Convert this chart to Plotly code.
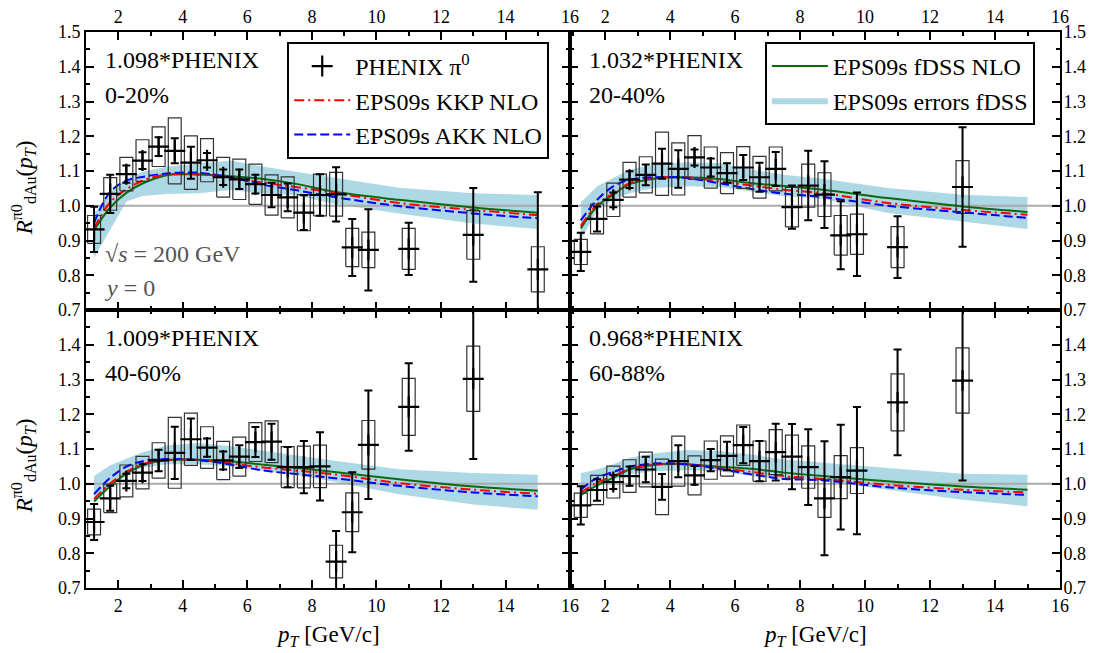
import plotly.graph_objects as go

# ---------------- data ----------------
PT = [1.25, 1.75, 2.25, 2.75, 3.25, 3.75, 4.25, 4.75, 5.25, 5.75, 6.25, 6.75,
      7.25, 7.75, 8.25, 8.75, 9.25, 9.75, 11.0, 13.0, 15.0]

NORM_LABELS = ["1.098*PHENIX", "1.032*PHENIX", "1.009*PHENIX", "0.968*PHENIX"]
CENT_LABELS = ["0-20%", "20-40%", "40-60%", "60-88%"]

R_0_20 = [0.932, 1.034, 1.091, 1.130, 1.170, 1.158, 1.124, 1.131, 1.082, 1.076, 1.062,
          1.031, 1.024, 0.980, 1.031, 1.033, 0.880, 0.873, 0.876, 0.916, 0.817]
STAT_0_20 = [0.065, 0.055, 0.025, 0.024, 0.027, 0.036, 0.046, 0.021, 0.022, 0.028, 0.027,
             0.035, 0.040, 0.050, 0.060, 0.078, 0.082, 0.117, 0.075, 0.135, 0.222]
SYS_0_20 = [0.040, 0.047, 0.048, 0.060, 0.057, 0.095, 0.077, 0.062, 0.057, 0.058, 0.058,
            0.058, 0.059, 0.052, 0.060, 0.063, 0.055, 0.051, 0.059, 0.070, 0.065]

R_20_40 = [0.867, 0.962, 1.017, 1.075, 1.089, 1.121, 1.106, 1.139, 1.110, 1.094,
           1.110, 1.082, 1.106, 0.996, 1.058, 1.032, 0.915, 0.918, 0.881, 1.054]
STAT_20_40 = [0.055, 0.036, 0.021, 0.024, 0.030, 0.043, 0.054, 0.023, 0.026, 0.028,
              0.036, 0.042, 0.049, 0.062, 0.100, 0.096, 0.098, 0.120, 0.089, 0.172]
SYS_20_40 = [0.036, 0.043, 0.048, 0.050, 0.052, 0.091, 0.075, 0.063, 0.059, 0.059,
             0.060, 0.060, 0.063, 0.057, 0.062, 0.063, 0.057, 0.058, 0.059, 0.076]

R_40_60 = [0.890, 0.958, 1.008, 1.032, 1.067, 1.089, 1.128, 1.104, 1.067, 1.078,
           1.120, 1.121, 1.048, 1.048, 1.050, 0.776, 0.918, 1.112, 1.221, 1.302]
STAT_40_60 = [0.052, 0.036, 0.021, 0.024, 0.031, 0.075, 0.060, 0.026, 0.026, 0.033,
              0.043, 0.052, 0.058, 0.075, 0.098, 0.088, 0.115, 0.156, 0.126, 0.231]
SYS_40_60 = [0.037, 0.041, 0.046, 0.047, 0.051, 0.102, 0.075, 0.060, 0.055, 0.056,
             0.056, 0.060, 0.059, 0.060, 0.061, 0.047, 0.056, 0.070, 0.082, 0.094]

R_60_88 = [0.938, 0.982, 1.005, 1.022, 1.041, 0.991, 1.065, 1.024, 1.068, 1.080,
           1.111, 1.065, 1.091, 1.078, 1.048, 0.958, 1.019, 1.038, 1.234, 1.297]
STAT_60_88 = [0.055, 0.031, 0.020, 0.028, 0.037, 0.037, 0.046, 0.027, 0.032, 0.041,
              0.052, 0.058, 0.082, 0.094, 0.109, 0.164, 0.151, 0.183, 0.152, 0.288]
SYS_60_88 = [0.035, 0.042, 0.046, 0.047, 0.050, 0.080, 0.072, 0.056, 0.055, 0.058,
             0.058, 0.058, 0.065, 0.062, 0.061, 0.055, 0.062, 0.066, 0.082, 0.094]

# theory curves (EPS09s), common pT grid
PT_TH = [1.25, 1.75, 2.25, 2.75, 3.5, 4.5, 5.5, 6.5, 7.5, 8.7, 10.7, 13.0, 15.0]

FDSS_0_20 = [0.930, 0.995, 1.037, 1.064, 1.088, 1.090, 1.085, 1.077, 1.063, 1.040, 1.017, 0.995, 0.980]
KKP_0_20 = [0.935, 1.010, 1.047, 1.072, 1.090, 1.090, 1.082, 1.066, 1.054, 1.037, 1.008, 0.988, 0.973]
AKK_0_20 = [0.951, 1.040, 1.072, 1.083, 1.093, 1.095, 1.081, 1.060, 1.045, 1.025, 0.999, 0.978, 0.964]
ERR_HI_0_20 = [0.975, 1.040, 1.077, 1.098, 1.112, 1.120, 1.130, 1.112, 1.098, 1.080, 1.052, 1.036, 1.031]
ERR_LO_0_20 = [0.850, 0.930, 1.012, 1.028, 1.034, 1.036, 1.045, 1.035, 1.030, 1.005, 0.978, 0.949, 0.933]

FDSS_20_40 = [0.935, 0.998, 1.032, 1.062, 1.078, 1.082, 1.077, 1.065, 1.057, 1.046, 1.022, 0.998, 0.982]
KKP_20_40 = [0.942, 1.003, 1.036, 1.065, 1.080, 1.082, 1.070, 1.058, 1.046, 1.036, 1.008, 0.988, 0.974]
AKK_20_40 = [0.958, 1.017, 1.056, 1.075, 1.082, 1.080, 1.065, 1.048, 1.035, 1.025, 1.000, 0.981, 0.965]
ERR_HI_20_40 = [1.010, 1.056, 1.080, 1.104, 1.118, 1.125, 1.123, 1.104, 1.089, 1.078, 1.051, 1.032, 1.025]
ERR_LO_20_40 = [0.900, 0.988, 1.017, 1.036, 1.051, 1.056, 1.054, 1.041, 1.027, 1.020, 0.979, 0.955, 0.933]

FDSS_40_60 = [0.949, 0.993, 1.029, 1.053, 1.068, 1.069, 1.064, 1.055, 1.046, 1.034, 1.013, 0.992, 0.980]
KKP_40_60 = [0.956, 1.001, 1.034, 1.056, 1.068, 1.068, 1.058, 1.047, 1.038, 1.027, 1.002, 0.983, 0.971]
AKK_40_60 = [0.970, 1.017, 1.049, 1.065, 1.071, 1.068, 1.055, 1.038, 1.028, 1.016, 0.994, 0.975, 0.964]
ERR_HI_40_60 = [1.022, 1.053, 1.072, 1.091, 1.110, 1.117, 1.108, 1.095, 1.081, 1.066, 1.042, 1.031, 1.026]
ERR_LO_40_60 = [0.945, 0.995, 1.022, 1.046, 1.056, 1.056, 1.050, 1.037, 1.026, 1.006, 0.970, 0.940, 0.925]

FDSS_60_88 = [0.967, 0.995, 1.017, 1.041, 1.054, 1.056, 1.049, 1.043, 1.032, 1.022, 1.007, 0.992, 0.983]
KKP_60_88 = [0.975, 1.003, 1.022, 1.043, 1.056, 1.056, 1.046, 1.034, 1.022, 1.014, 0.997, 0.983, 0.975]
AKK_60_88 = [0.983, 1.017, 1.034, 1.049, 1.058, 1.056, 1.043, 1.027, 1.014, 1.010, 0.990, 0.976, 0.968]
ERR_HI_60_88 = [1.030, 1.041, 1.056, 1.075, 1.087, 1.097, 1.094, 1.084, 1.070, 1.060, 1.045, 1.029, 1.026]
ERR_LO_60_88 = [0.965, 0.995, 1.011, 1.027, 1.036, 1.039, 1.036, 1.022, 1.014, 1.008, 0.983, 0.954, 0.935]

X_TICKS = [2, 4, 6, 8, 10, 12, 14, 16]
Y_TICKS_TOP = [0.7, 0.8, 0.9, 1.0, 1.1, 1.2, 1.3, 1.4, 1.5]
Y_TICKS_BOTTOM = [0.7, 0.8, 0.9, 1.0, 1.1, 1.2, 1.3, 1.4]
REF_LEVEL = 1.0

# ---------------- styling ----------------
FONT = "Liberation Serif"
GREEN = "#0b6b0b"
RED = "#ff0000"
BLUE = "#0000ff"
BAND = "#add8e6"
BOX_HALF = 0.2

panels = [
    dict(x=PT, y=R_0_20, stat=STAT_0_20, sys=SYS_0_20, fdss=FDSS_0_20, kkp=KKP_0_20,
         akk=AKK_0_20, hi=ERR_HI_0_20, lo=ERR_LO_0_20, xa="x", ya="y", xr=[1.0, 16]),
    dict(x=PT[:20], y=R_20_40, stat=STAT_20_40, sys=SYS_20_40, fdss=FDSS_20_40, kkp=KKP_20_40,
         akk=AKK_20_40, hi=ERR_HI_20_40, lo=ERR_LO_20_40, xa="x2", ya="y2", xr=[0.92, 16]),
    dict(x=PT[:20], y=R_40_60, stat=STAT_40_60, sys=SYS_40_60, fdss=FDSS_40_60, kkp=KKP_40_60,
         akk=AKK_40_60, hi=ERR_HI_40_60, lo=ERR_LO_40_60, xa="x3", ya="y3", xr=[1.0, 16]),
    dict(x=PT[:20], y=R_60_88, stat=STAT_60_88, sys=SYS_60_88, fdss=FDSS_60_88, kkp=KKP_60_88,
         akk=AKK_60_88, hi=ERR_HI_60_88, lo=ERR_LO_60_88, xa="x4", ya="y4", xr=[0.92, 16]),
]

fig = go.Figure()

for i, p in enumerate(panels):
    first = i == 0
    # error band
    fig.add_trace(go.Scatter(
        x=PT_TH + PT_TH[::-1], y=p["hi"] + p["lo"][::-1], fill="toself",
        fillcolor=BAND, line=dict(width=0, color=BAND), mode="lines",
        name="EPS09s errors fDSS", legend="legend2", legendgroup="band", legendrank=2,
        showlegend=(i == 1), xaxis=p["xa"], yaxis=p["ya"], hoverinfo="skip"))
    # reference line at 1
    fig.add_trace(go.Scatter(
        x=p["xr"], y=[REF_LEVEL, REF_LEVEL], mode="lines",
        line=dict(color="#aaaaaa", width=2), showlegend=False,
        xaxis=p["xa"], yaxis=p["ya"], hoverinfo="skip"))
    # curves
    fig.add_trace(go.Scatter(
        x=PT_TH, y=p["fdss"], mode="lines", line=dict(color=GREEN, width=2, shape="spline"),
        name="EPS09s fDSS NLO", legend="legend2", legendgroup="fdss", legendrank=1,
        showlegend=(i == 1), xaxis=p["xa"], yaxis=p["ya"]))
    fig.add_trace(go.Scatter(
        x=PT_TH, y=p["kkp"], mode="lines",
        line=dict(color=RED, width=2, shape="spline", dash="10px,4px,2px,4px"),
        name="EPS09s KKP NLO", legend="legend", legendgroup="kkp", legendrank=2,
        showlegend=first, xaxis=p["xa"], yaxis=p["ya"]))
    fig.add_trace(go.Scatter(
        x=PT_TH, y=p["akk"], mode="lines",
        line=dict(color=BLUE, width=2, shape="spline", dash="9px,4px"),
        name="EPS09s AKK NLO", legend="legend", legendgroup="akk", legendrank=3,
        showlegend=first, xaxis=p["xa"], yaxis=p["ya"]))
    # systematic boxes
    bx, by = [], []
    for xv, yv, s in zip(p["x"], p["y"], p["sys"]):
        bx += [xv - BOX_HALF, xv + BOX_HALF, xv + BOX_HALF, xv - BOX_HALF, xv - BOX_HALF, None]
        by += [yv - s, yv - s, yv + s, yv + s, yv - s, None]
    fig.add_trace(go.Scatter(
        x=bx, y=by, mode="lines", line=dict(color="#333333", width=1.2),
        showlegend=False, xaxis=p["xa"], yaxis=p["ya"], hoverinfo="skip"))
    # data points
    fig.add_trace(go.Scatter(
        x=p["x"], y=p["y"], mode="markers",
        marker=dict(symbol="cross-thin", size=15, color="black",
                    line=dict(color="black", width=2.2)),
        error_y=dict(type="data", array=p["stat"], visible=True, color="black",
                     thickness=2, width=4),
        name="PHENIX π<sup>0</sup>", legend="legend", legendgroup="data", legendrank=1,
        showlegend=first, xaxis=p["xa"], yaxis=p["ya"]))

XSPLIT = 0.497
tickfont = dict(family=FONT, size=18, color="black")
common = dict(showline=True, linewidth=2, linecolor="black", mirror="allticks",
              ticks="inside", ticklen=8, tickwidth=2, tickcolor="black",
              showgrid=False, zeroline=False, tickfont=tickfont, automargin=False)

xcommon = dict(common, tickmode="array", tickvals=X_TICKS,
               minor=dict(ticks="inside", ticklen=4, tickwidth=1.5, dtick=1, tick0=0,
                          tickcolor="black", showgrid=False))
ycommon = dict(common, tickmode="array", tickformat=".1f",
               minor=dict(ticks="inside", ticklen=4, tickwidth=1.5, dtick=0.05, tick0=0,
                          tickcolor="black", showgrid=False))

LEG_FONT = dict(family=FONT, size=24, color="black")

# the page adds an 8px body margin, so the margins are shifted by 8px
fig.update_layout(
    width=1100, height=653,
    margin=dict(l=78, r=48, t=24, b=73, autoexpand=False),
    paper_bgcolor="white", plot_bgcolor="white",
    font=dict(family=FONT, size=18, color="black"),
    xaxis=dict(xcommon, domain=[0, XSPLIT], anchor="y", range=panels[0]["xr"], side="top"),
    xaxis2=dict(xcommon, domain=[XSPLIT, 1], anchor="y2", range=panels[1]["xr"], side="top"),
    xaxis3=dict(xcommon, domain=[0, XSPLIT], anchor="y3", range=panels[2]["xr"], side="bottom"),
    xaxis4=dict(xcommon, domain=[XSPLIT, 1], anchor="y4", range=panels[3]["xr"], side="bottom"),
    yaxis=dict(ycommon, domain=[0.5, 1], anchor="x", range=[0.7, 1.5], side="left",
               tickvals=Y_TICKS_TOP),
    yaxis2=dict(ycommon, domain=[0.5, 1], anchor="x2", range=[0.7, 1.5], side="right",
                tickvals=Y_TICKS_TOP, ticklabelstandoff=-2),
    yaxis3=dict(ycommon, domain=[0, 0.5], anchor="x3", range=[0.7, 1.5], side="left",
                tickvals=Y_TICKS_BOTTOM),
    yaxis4=dict(ycommon, domain=[0, 0.5], anchor="x4", range=[0.7, 1.5], side="right",
                tickvals=Y_TICKS_BOTTOM, ticklabelstandoff=-2),
    legend=dict(x=0.2066, y=0.982, xanchor="left", yanchor="top",
                bgcolor="white", bordercolor="black", borderwidth=2,
                font=LEG_FONT, itemwidth=56, tracegroupgap=3, traceorder="normal"),
    legend2=dict(x=0.697, y=0.982, xanchor="left", yanchor="top",
                 bgcolor="white", bordercolor="black", borderwidth=2,
                 font=LEG_FONT, itemwidth=56, tracegroupgap=0, traceorder="normal"),
)

# axis titles
title_font = dict(family=FONT, size=23, color="black")
XTITLE = "<i>p<sub>T</sub></i> [GeV/c]"
YTITLE = "<i>R</i><sup>π0</sup><sub>dAu</sub>(<i>p<sub>T</sub></i>)"
for xa in ["x3", "x4"]:
    fig.add_annotation(text=XTITLE, xref=f"{xa} domain", yref="paper", x=0.5, y=-0.086,
                       xanchor="center", yanchor="middle", showarrow=False, font=title_font)
for ya in ["y", "y3"]:
    fig.add_annotation(text=YTITLE, xref="paper", yref=f"{ya} domain", x=-0.064, y=0.44,
                       xanchor="center", yanchor="middle", textangle=-90, showarrow=False,
                       font=title_font)

# panel labels
label_font = dict(family=FONT, size=24, color="black")
ann_axes = [("x", "y"), ("x2", "y2"), ("x3", "y3"), ("x4", "y4")]
for (xa, ya), norm, cent in zip(ann_axes, NORM_LABELS, CENT_LABELS):
    fig.add_annotation(text=norm, xref=f"{xa} domain", yref=f"{ya} domain", x=0.035, y=0.9,
                       xanchor="left", yanchor="middle", showarrow=False, font=label_font)
    fig.add_annotation(text=cent, xref=f"{xa} domain", yref=f"{ya} domain", x=0.035, y=0.775,
                       xanchor="left", yanchor="middle", showarrow=False, font=label_font)

gray_font = dict(family=FONT, size=24, color="#555555")
fig.add_annotation(text="√<i>s</i> = 200 GeV", xref="x domain", yref="y domain", x=0.035, y=0.2,
                   xanchor="left", yanchor="middle", showarrow=False, font=gray_font)
fig.add_annotation(text="<i>y</i> = 0", xref="x domain", yref="y domain", x=0.035, y=0.08,
                   xanchor="left", yanchor="middle", showarrow=False, font=gray_font)

fig.write_html("out.html")
